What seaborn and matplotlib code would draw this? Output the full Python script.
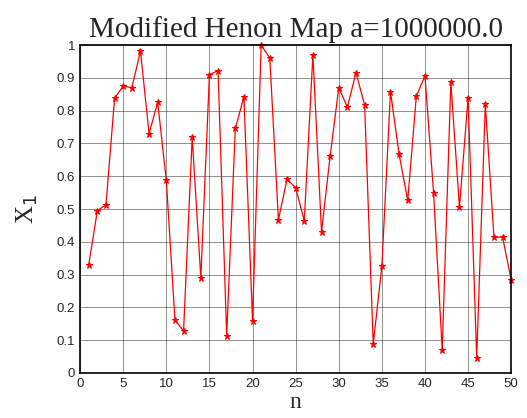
import matplotlib
matplotlib.use('Agg')
import matplotlib.pyplot as plt
import pandas as pd
import seaborn as sns

n = list(range(1, 51))
x1 = [0.330, 0.495, 0.513, 0.838, 0.875, 0.870, 0.982, 0.730, 0.825, 0.587,
      0.161, 0.128, 0.719, 0.290, 0.910, 0.922, 0.113, 0.746, 0.842, 0.159,
      1.000, 0.961, 0.467, 0.591, 0.565, 0.464, 0.971, 0.431, 0.661, 0.870,
      0.811, 0.916, 0.817, 0.088, 0.325, 0.858, 0.667, 0.526, 0.845, 0.906,
      0.548, 0.070, 0.887, 0.505, 0.840, 0.046, 0.820, 0.414, 0.414, 0.284]
xticks = [0, 5, 10, 15, 20, 25, 30, 35, 40, 45, 50]
yticks = [0, 0.1, 0.2, 0.3, 0.4, 0.5, 0.6, 0.7, 0.8, 0.9, 1]
ytick_labels = ['0', '0.1', '0.2', '0.3', '0.4', '0.5', '0.6', '0.7', '0.8', '0.9', '1']

df = pd.DataFrame({'n': n, 'x1': x1})

sns.set_style('white')
plt.rcParams['font.family'] = ['Liberation Sans', 'DejaVu Sans']

fig = plt.figure(figsize=(5.27, 4.18), dpi=100)
ax = fig.add_axes([0.152, 0.108, 0.818, 0.784])
sns.lineplot(data=df, x='n', y='x1', ax=ax, color='red', linewidth=0.9,
             marker='*', markersize=5, markeredgecolor='red', markerfacecolor='red',
             clip_on=False)

ax.set_xlim(0, 50)
ax.set_ylim(0, 1)
ax.set_xticks(xticks)
ax.set_yticks(yticks)
ax.set_yticklabels(ytick_labels)
ax.tick_params(direction='in', labelsize=9.5, length=4, color='black')
ax.grid(True, color='black', linewidth=0.5, alpha=0.6)
for s in ax.spines.values():
    s.set_color('black')
    s.set_linewidth(1.2)
    s.set_visible(True)

ax.set_title('Modified Henon Map a=1000000.0', family='Liberation Serif', fontsize=21, pad=6)
ax.set_xlabel('n', family='Liberation Serif', fontsize=17, labelpad=2)
ax.set_ylabel('X$_1$', family='Liberation Serif', fontsize=18, labelpad=12)

fig.savefig('out.png', dpi=100)
